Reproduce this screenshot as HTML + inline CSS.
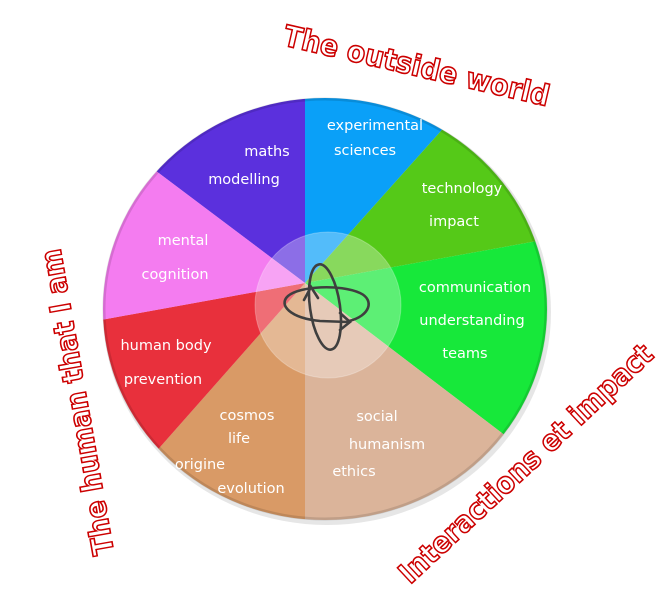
<!DOCTYPE html>
<html><head><meta charset="utf-8"><style>
html,body{margin:0;padding:0;background:#fff;}
svg{display:block}
.w{font-family:"DejaVu Sans","Liberation Sans",sans-serif;font-size:14.5px;fill:#fff;text-anchor:middle}
.t{font-family:"DejaVu Sans","Liberation Sans",sans-serif;font-size:29px;font-weight:bold;fill:#fff;stroke:#cc0000;stroke-width:1.6}
</style></head><body>
<svg width="671" height="604" viewBox="0 0 671 604" xmlns="http://www.w3.org/2000/svg">
<defs>
<clipPath id="c"><ellipse cx="325" cy="309" rx="222" ry="211"/></clipPath>
</defs>
<ellipse cx="327" cy="312" rx="224" ry="213" fill="#e6e6e6"/>
<g clip-path="url(#c)">
<polygon points="305,283 305,40 39,40 39,83" fill="#5b30dd"/>
<polygon points="305,283 305,40 520,40 500,65" fill="#0aa0f8"/>
<polygon points="305,283 500,65 520,40 620,40 620,226" fill="#55c918"/>
<polygon points="305,283 620,226 620,523" fill="#17e83a"/>
<polygon points="305,283 620,523 620,580 305,580" fill="#dbb49a"/>
<polygon points="305,283 305,580 40,580 40,583" fill="#d99a66"/>
<polygon points="305,283 40,583 40,331" fill="#e8303c"/>
<polygon points="305,283 40,331 39,83" fill="#f47cf0"/>
</g>
<ellipse cx="325" cy="309" rx="221" ry="210" fill="none" stroke="rgba(0,0,0,0.12)" stroke-width="3"/>
<circle cx="328" cy="305" r="73" fill="rgba(255,255,255,0.3)" stroke="rgba(255,255,255,0.25)" stroke-width="1"/>
<g fill="none" stroke="#3f3f3f" stroke-width="2.6" stroke-linecap="round">
<ellipse cx="325" cy="307" rx="15" ry="43" transform="rotate(-8 325 307)"/>
<path d="M349,321 C370,316 375,300 360,293 C340,284 300,286 288,296 C278,305 290,318 320,321 L348,322"/>
<path d="M340,313 L350,322 L340,330"/>
<path d="M304,300 L311,287 L318,298"/>
</g>
<text class="w" x="375" y="130">experimental</text>
<text class="w" x="365" y="155">sciences</text>
<text class="w" x="267" y="156">maths</text>
<text class="w" x="244" y="184">modelling</text>
<text class="w" x="462" y="193">technology</text>
<text class="w" x="454" y="226">impact</text>
<text class="w" x="183" y="245">mental</text>
<text class="w" x="175" y="279">cognition</text>
<text class="w" x="475" y="292">communication</text>
<text class="w" x="472" y="325">understanding</text>
<text class="w" x="465" y="358">teams</text>
<text class="w" x="166" y="350">human body</text>
<text class="w" x="163" y="384">prevention</text>
<text class="w" x="247" y="420">cosmos</text>
<text class="w" x="239" y="443">life</text>
<text class="w" x="200" y="469">origine</text>
<text class="w" x="251" y="493">evolution</text>
<text class="w" x="377" y="421">social</text>
<text class="w" x="387" y="449">humanism</text>
<text class="w" x="354" y="476">ethics</text>
<text class="t" transform="translate(282,45) rotate(13)" textLength="272" lengthAdjust="spacingAndGlyphs">The outside world</text>
<text class="t" transform="translate(114,553) rotate(-100)" textLength="310" lengthAdjust="spacingAndGlyphs">The human that I am</text>
<text class="t" transform="translate(410,585) rotate(-43)" textLength="335" lengthAdjust="spacingAndGlyphs">Interactions et impact</text>
</svg>
</body></html>
